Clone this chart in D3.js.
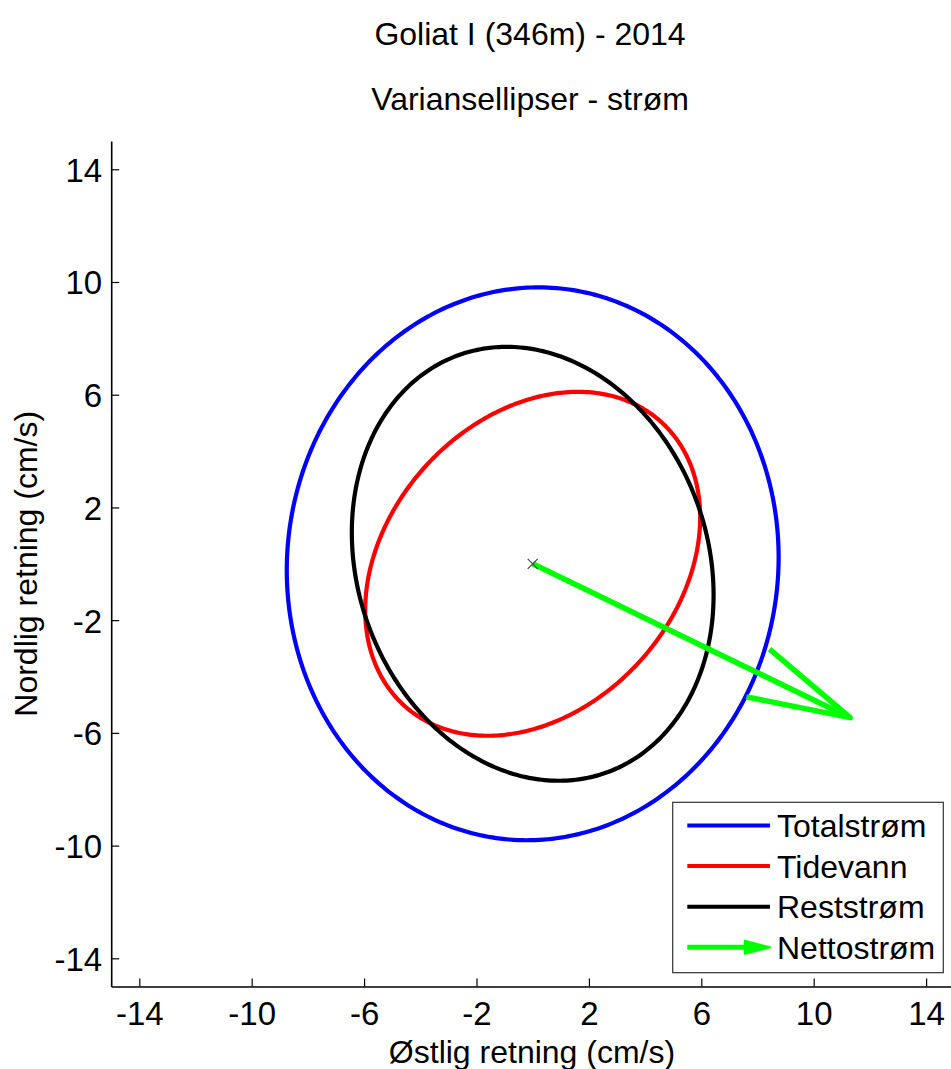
<!DOCTYPE html>
<html>
<head>
<meta charset="utf-8">
<script src="https://cdn.jsdelivr.net/npm/d3@7/dist/d3.min.js"></script>
<style>
  html, body { margin: 0; padding: 0; background: #fff; }
  svg { display: block; }
  text { font-family: "Liberation Sans", Arial, Helvetica, sans-serif; fill: #000; }
</style>
</head>
<body>
<svg id="chart" width="951" height="1069"></svg>
<script>
// ---- data ----
const titleLines = ["Goliat I (346m) - 2014", "Variansellipser - strøm"];
const xLabel = "Østlig retning (cm/s)";
const yLabel = "Nordlig retning (cm/s)";
const tickValues = [-14, -10, -6, -2, 2, 6, 10, 14];
const tickLabels = ["-14", "-10", "-6", "-2", "2", "6", "10", "14"];
const axisDomain = [-15, 15];

const ellipseNames = ["Totalstrøm", "Tidevann", "Reststrøm"];
const ellipseColors = ["#0000ff", "#ff0000", "#000000"];
const semiMajor = [9.82, 6.80, 7.86];       // cm/s
const semiMinor = [8.74, 5.15, 6.24];       // cm/s
const orientationDeg = [84.2, 47.5, 109.3]; // major axis angle from east, counter-clockwise

const netName = "Nettostrøm";
const netColor = "#00ff00";
const netEast = 11.3;   // cm/s
const netNorth = -5.46; // cm/s

// ---- layout ----
const svg = d3.select("#chart");
const x = d3.scaleLinear().domain(axisDomain).range([111.2, 954.2]);
const y = d3.scaleLinear().domain(axisDomain).range([986.5, 141.1]);
const FONT = 32;

// ellipses
const nPts = 360;
ellipseNames.forEach((name, i) => {
  const a = semiMajor[i], b = semiMinor[i], th = orientationDeg[i] * Math.PI / 180;
  const pts = d3.range(nPts + 1).map(k => {
    const t = 2 * Math.PI * k / nPts;
    const u = a * Math.cos(t), v = b * Math.sin(t);
    return [u * Math.cos(th) - v * Math.sin(th), u * Math.sin(th) + v * Math.cos(th)];
  });
  svg.append("path")
    .attr("d", d3.line().x(d => x(d[0])).y(d => y(d[1]))(pts))
    .attr("fill", "none")
    .attr("stroke", ellipseColors[i])
    .attr("stroke-width", 4.2)
    .attr("stroke-linejoin", "round");
});

// net current arrow
function arrow(g, x0, y0, x1, y1, headFrac, headLen, color, width, filled) {
  const dx = x1 - x0, dy = y1 - y0;
  const L = Math.hypot(dx, dy);
  const hl = headLen != null ? headLen : L * headFrac;
  const ang = Math.atan2(dy, dx);
  const spread = 14.5 * Math.PI / 180;
  const h1 = [x1 - hl * Math.cos(ang - spread), y1 - hl * Math.sin(ang - spread)];
  const h2 = [x1 - hl * Math.cos(ang + spread), y1 - hl * Math.sin(ang + spread)];
  if (filled) {
    g.append("path")
      .attr("d", `M${x0},${y0}L${x1 - hl * 0.8},${y1}`)
      .attr("stroke", color).attr("stroke-width", width).attr("fill", "none");
    g.append("path")
      .attr("d", `M${h1[0]},${h1[1]}L${x1},${y1}L${h2[0]},${h2[1]}Z`)
      .attr("fill", color).attr("stroke", color).attr("stroke-width", 2).attr("stroke-linejoin", "round");
  } else {
    g.append("path")
      .attr("d", `M${x0},${y0}L${x1},${y1}M${h1[0]},${h1[1]}L${x1},${y1}L${h2[0]},${h2[1]}`)
      .attr("fill", "none")
      .attr("stroke", color)
      .attr("stroke-width", width)
      .attr("stroke-linejoin", "round")
      .attr("stroke-linecap", "butt");
  }
}
arrow(svg, x(0), y(0), x(netEast), y(netNorth), 0.30, null, netColor, 5.5, false);

// origin marker
const ox = x(0), oy = y(0), m = 5;
svg.append("path")
  .attr("d", `M${ox - m},${oy - m}L${ox + m},${oy + m}M${ox - m},${oy + m}L${ox + m},${oy - m}`)
  .attr("stroke", "#444").attr("stroke-width", 1.2).attr("fill", "none");

// axes
const fmt = d => tickLabels[tickValues.indexOf(d)];
const xAxis = d3.axisBottom(x).tickValues(tickValues).tickFormat(fmt).tickSizeInner(-8).tickSizeOuter(0).tickPadding(0);
const yAxis = d3.axisLeft(y).tickValues(tickValues).tickFormat(fmt).tickSizeInner(-8).tickSizeOuter(0).tickPadding(9);

const gx = svg.append("g").attr("transform", `translate(0,${y(-15)})`).call(xAxis);
const gy = svg.append("g").attr("transform", `translate(${x(-15)},0)`).call(yAxis);
[gx, gy].forEach(g => {
  g.select(".domain").attr("stroke", "#000").attr("stroke-width", 1.6);
  g.selectAll(".tick line").attr("stroke", "#000").attr("stroke-width", 1.2);
  g.selectAll(".tick text").attr("font-size", 33).attr("font-family", null).attr("fill", "#000");
});
gx.selectAll(".tick text").attr("y", 38.5).attr("dy", null);
gy.selectAll(".tick text").attr("dy", "0.36em");

// titles
svg.append("text").attr("x", 530).attr("y", 45).attr("text-anchor", "middle")
  .attr("font-size", FONT).text(titleLines[0]);
svg.append("text").attr("x", 530).attr("y", 110).attr("text-anchor", "middle")
  .attr("font-size", FONT).text(titleLines[1]);

// axis labels
svg.append("text").attr("x", 532).attr("y", 1063).attr("text-anchor", "middle")
  .attr("font-size", FONT).text(xLabel);
svg.append("text").attr("transform", `translate(37,${(y(15) + y(-15)) / 2}) rotate(-90)`)
  .attr("text-anchor", "middle").attr("font-size", FONT).text(yLabel);

// legend
const legNames = ellipseNames.concat([netName]);
const legColors = ellipseColors.concat([netColor]);
const leg = svg.append("g");
leg.append("rect").attr("x", 672.7).attr("y", 802.3).attr("width", 270.6).attr("height", 170.4)
  .attr("fill", "#fff").attr("stroke", "#333").attr("stroke-width", 1.2);
legNames.forEach((name, i) => {
  const ry = 825.5 + i * 40.6;
  if (i < 3) {
    leg.append("line").attr("x1", 687.3).attr("x2", 770).attr("y1", ry).attr("y2", ry)
      .attr("stroke", legColors[i]).attr("stroke-width", 4);
  } else {
    arrow(leg, 687.3, ry, 770, ry, null, 26, legColors[i], 5, true);
  }
  leg.append("text").attr("x", 777).attr("y", ry + 11.5).attr("font-size", FONT).text(name);
});
</script>
</body>
</html>
